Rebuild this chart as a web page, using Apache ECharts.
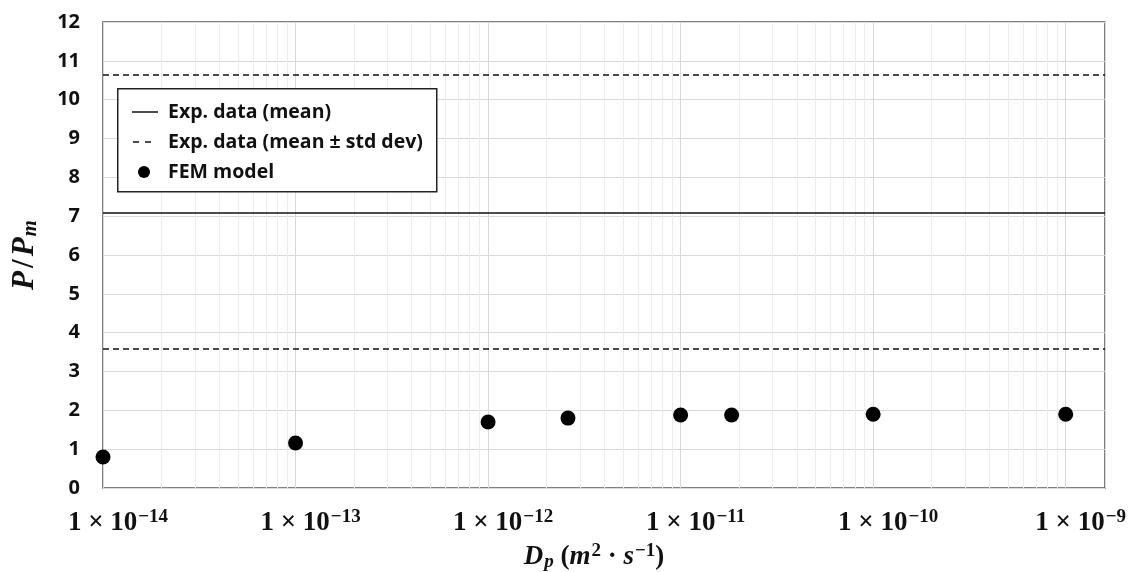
<!DOCTYPE html>
<html>
<head>
<meta charset="utf-8">
<script src="https://cdn.jsdelivr.net/npm/echarts@6/dist/echarts.min.js"></script>
<style>html,body{margin:0;padding:0;background:#fff;}#c{width:1136px;height:572px;}</style>
</head>
<body>
<div id="c"></div>
<script>
// ---- data ----
const femX = [1e-14, 1e-13, 1e-12, 2.6e-12, 1e-11, 1.84e-11, 1e-10, 1e-9];
const femY = [0.80, 1.16, 1.70, 1.80, 1.88, 1.88, 1.90, 1.90];
const expMean = 7.1;
const expBand = [10.63, 3.58];
const yTicks = [0, 1, 2, 3, 4, 5, 6, 7, 8, 9, 10, 11, 12];
const xDecades = [-14, -13, -12, -11, -10, -9];
const legendNames = ['Exp. data (mean)', 'Exp. data (mean \u00B1 std dev)', 'FEM model'];

const xMin = 1e-14, xMax = 1.6e-9, yMin = 0, yMax = 12;

// minor vertical grid positions (2..9 × each decade)
const minorGrid = [];
for (const e of xDecades) {
  for (let m = 2; m <= 9; m++) {
    const v = m * Math.pow(10, e);
    if (v < xMax) minorGrid.push([v]);
  }
}

const chart = echarts.init(document.getElementById('c'), null, { renderer: 'canvas' });
const serif = '"Liberation Serif", "DejaVu Serif", serif';
const sans = '"Open Sans", Lato, sans-serif';

// legend (drawn as graphic elements)
const LX = 117, LY = 88, LW = 319, LH = 103;
const rowY = [112, 142, 172];
const legendGraphic = [
  { type: 'rect', left: LX, top: LY, z: 50, shape: { width: LW, height: LH }, style: { fill: '#fff', stroke: '#222', lineWidth: 1.5 } },
  { type: 'line', z: 51, shape: { x1: 132, y1: rowY[0], x2: 158, y2: rowY[0] }, style: { stroke: '#111', lineWidth: 1.5 } },
  { type: 'line', z: 51, shape: { x1: 133, y1: rowY[1], x2: 157, y2: rowY[1] }, style: { stroke: '#111', lineWidth: 1.5, lineDash: [6, 6] } },
  { type: 'circle', z: 51, shape: { cx: 144, cy: rowY[2], r: 6 }, style: { fill: '#000' } }
];
legendNames.forEach((n, i) => {
  legendGraphic.push({
    type: 'text', z: 51, x: 168, y: rowY[i],
    style: { text: n, fill: '#111', font: 'bold 19.5px ' + sans, textVerticalAlign: 'middle', textAlign: 'left' }
  });
});

chart.setOption({
  animation: false,
  backgroundColor: '#ffffff',
  grid: { left: 103, right: 31, top: 22, bottom: 84, containLabel: false, outerBoundsMode: 'none',
          show: true, borderColor: '#555555', borderWidth: 1.5, backgroundColor: 'transparent' },
  graphic: legendGraphic,
  xAxis: {
    type: 'log', logBase: 10, min: xMin, max: xMax,
    name: '{d|D}{p|p}{t| (}{m|m}{sup|2}{t| \u00B7 }{m|s}{sup|\u22121}{e|)}',
    nameLocation: 'middle', nameGap: 53,
    nameTextStyle: {
      color: '#111',
      rich: {
        d: { fontFamily: serif, fontStyle: 'italic', fontWeight: 'bold', fontSize: 27 },
        p: { fontFamily: serif, fontStyle: 'italic', fontWeight: 'bold', fontSize: 19, padding: [10, 0, 0, 1] },
        t: { fontFamily: serif, fontWeight: 'bold', fontSize: 27 },
        e: { fontFamily: serif, fontWeight: 'bold', fontSize: 27, padding: [0, 20, 0, 0] },
        m: { fontFamily: serif, fontStyle: 'italic', fontWeight: 'bold', fontSize: 27 },
        sup: { fontFamily: serif, fontWeight: 'bold', fontSize: 19, padding: [0, 0, 12, 1] }
      }
    },
    axisLine: { show: false },
    axisTick: { show: false },
    splitLine: { show: true, lineStyle: { color: '#d9d9d9', width: 1 } },
    axisLabel: {
      margin: 20,
      color: '#111',
      formatter: function (v) {
        const e = Math.log10(v);
        const r = Math.round(e);
        if (Math.abs(e - r) > 1e-6) return '';
        return '{a|1 \u00D7 10}{s|\u2212' + Math.abs(r) + '}';
      },
      rich: {
        a: { fontFamily: serif, fontWeight: 'bold', fontSize: 27, color: '#111', padding: [0, 0, 0, 30] },
        s: { fontFamily: serif, fontWeight: 'bold', fontSize: 19, color: '#111', padding: [0, 0, 12, 1] }
      }
    }
  },
  yAxis: {
    type: 'value', min: yMin, max: yMax, interval: 1,
    name: '{p|P}{t|/}{p|P}{s|m}',
    nameLocation: 'middle', nameGap: 62, nameRotate: 90,
    nameTextStyle: {
      color: '#111',
      rich: {
        p: { fontFamily: serif, fontStyle: 'italic', fontWeight: 'bold', fontSize: 31 },
        t: { fontFamily: serif, fontWeight: 'bold', fontSize: 31, padding: [0, 3, 0, 3] },
        s: { fontFamily: serif, fontStyle: 'italic', fontWeight: 'bold', fontSize: 21, padding: [11, 0, 0, 1] }
      }
    },
    axisLine: { show: false },
    axisTick: { show: false },
    splitLine: { show: true, lineStyle: { color: '#d9d9d9', width: 1 } },
    axisLabel: {
      margin: 23,
      color: '#111',
      fontFamily: sans, fontWeight: 'bold', fontSize: 20,
      formatter: function (v) { return yTicks.indexOf(v) >= 0 ? String(v) : ''; }
    }
  },
  series: [
    {
      name: 'minor-grid', type: 'custom', silent: true, z: 1,
      data: minorGrid,
      encode: { x: 0 },
      renderItem: function (params, api) {
        const v = api.value(0);
        const p0 = api.coord([v, yMin]);
        const p1 = api.coord([v, yMax]);
        return {
          type: 'line',
          shape: { x1: Math.round(p0[0]) + 0.5, y1: p0[1], x2: Math.round(p0[0]) + 0.5, y2: p1[1] },
          style: { stroke: '#ececec', lineWidth: 1 }
        };
      }
    },
    {
      name: legendNames[0], type: 'line', data: [], symbol: 'none', z: 3,
      markLine: {
        silent: true, symbol: 'none', label: { show: false },
        lineStyle: { color: '#111', width: 1.5, type: 'solid' },
        data: [{ yAxis: expMean }]
      }
    },
    {
      name: legendNames[1], type: 'line', data: [], symbol: 'none', z: 3,
      markLine: {
        silent: true, symbol: 'none', label: { show: false },
        lineStyle: { color: '#111', width: 1.5, type: [6, 4] },
        data: expBand.map(v => ({ yAxis: v }))
      }
    },
    {
      name: legendNames[2], type: 'scatter', symbol: 'circle', symbolSize: 15,
      itemStyle: { color: '#000', opacity: 1 }, z: 5,
      data: femX.map((x, i) => [x, femY[i]])
    }
  ]
});
</script>
</body>
</html>
